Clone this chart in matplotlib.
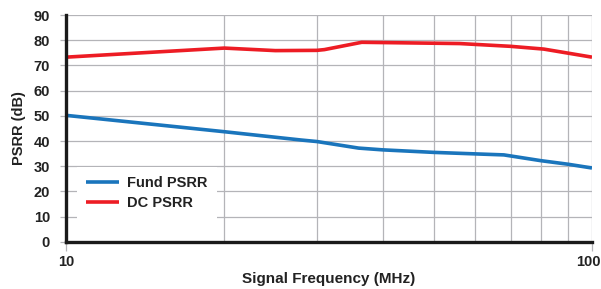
import matplotlib
matplotlib.use("Agg")
import matplotlib.pyplot as plt
from matplotlib.ticker import FixedLocator, NullFormatter

plt.rcParams['font.family'] = ['Liberation Sans', 'DejaVu Sans']

fund_freq = [10, 20, 28, 30, 36, 40, 50, 60, 68, 80, 90, 100]
fund_psrr = [50.2, 43.7, 40.4, 39.8, 37.2, 36.5, 35.5, 34.9, 34.5, 32.2, 30.8, 29.3]

dc_freq = [10, 20, 25, 30, 31, 36.5, 56, 70, 81, 100]
dc_psrr = [73.3, 76.9, 75.9, 76.0, 76.3, 79.2, 78.7, 77.6, 76.5, 73.3]

x_major = [10, 100]
x_minor = [20, 30, 40, 50, 60, 70, 80, 90]
y_ticks = list(range(0, 91, 10))

FS = 10.5
TXT = '#222222'
XTICK_LEN, XTICK_PAD = 6.5, 3

fig = plt.figure(figsize=(6.01, 2.89), dpi=100)
ax = fig.add_axes([0.1098, 0.1633, 0.8752, 0.7845])

ax.plot(fund_freq, fund_psrr, color='#1a75bc', lw=2.6, label='Fund PSRR', solid_capstyle='butt', zorder=3)
ax.plot(dc_freq, dc_psrr, color='#ed1c24', lw=2.6, label='DC PSRR', solid_capstyle='butt', zorder=3)

ax.set_xscale('log')
ax.set_xlim(10, 100)
ax.set_ylim(0, 90)
ax.xaxis.set_major_locator(FixedLocator(x_major))
ax.xaxis.set_minor_locator(FixedLocator(x_minor))
ax.xaxis.set_minor_formatter(NullFormatter())
ax.set_xticks(x_major)
# the last label ("100") is drawn separately so it sits flush with the figure edge
ax.set_xticklabels([str(x_major[0])] + [''] * (len(x_major) - 1),
                   fontsize=FS, fontweight='bold', color=TXT)
ax.annotate(str(x_major[-1]), xy=(x_major[-1], 0), xycoords=('data', 'axes fraction'),
            xytext=(6.0, -(XTICK_LEN + XTICK_PAD)), textcoords='offset points',
            ha='right', va='top', fontsize=FS, fontweight='bold', color=TXT)
ax.set_yticks(y_ticks)
ax.set_yticklabels([str(v) for v in y_ticks], fontsize=FS, fontweight='bold', color=TXT)

ax.grid(True, which='both', color='#b4b4b8', lw=0.9, zorder=0)
ax.set_axisbelow(True)

for s in ['top', 'right']:
    ax.spines[s].set_visible(False)
for s in ['left', 'bottom']:
    ax.spines[s].set_linewidth(2.4)
    ax.spines[s].set_color('#1a1a1a')
    ax.spines[s].set_zorder(4)

ax.tick_params(axis='y', which='major', length=4.5, width=0.9, color='#b4b4b8', pad=7)
ax.tick_params(axis='x', which='major', length=XTICK_LEN, width=0.9, color='#b4b4b8', pad=XTICK_PAD)
ax.tick_params(axis='x', which='minor', length=0)

ax.set_xlabel('Signal Frequency (MHz)', fontsize=11, fontweight='bold', color=TXT, labelpad=2.5)
ax.set_ylabel('PSRR (dB)', fontsize=FS, fontweight='bold', color=TXT, labelpad=5.5)

leg = ax.legend(loc='upper left', bbox_to_anchor=(0.021, 0.33), frameon=True, fancybox=False,
                edgecolor='none', facecolor='white', framealpha=1.0,
                prop={'weight': 'bold', 'size': FS}, handlelength=2.26, handletextpad=0.6,
                borderpad=0.6, labelspacing=0.45, borderaxespad=0)
for t in leg.get_texts():
    t.set_color(TXT)

fig.savefig('out.png', dpi=100)
